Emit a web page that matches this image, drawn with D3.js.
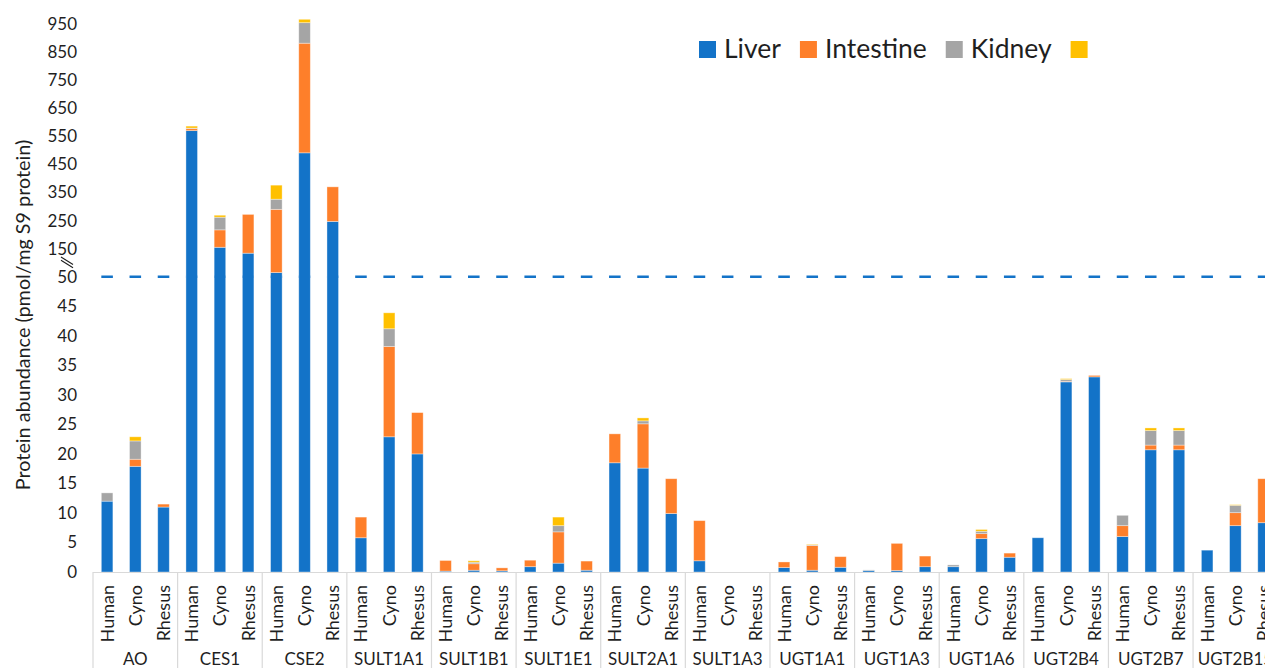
<!DOCTYPE html>
<html>
<head>
<meta charset="utf-8">
<script src="https://cdnjs.cloudflare.com/ajax/libs/d3/7.8.5/d3.min.js"></script>
<style>
  html, body { margin: 0; padding: 0; background: #fff; }
  svg { display: block; font-family: Lato, "Open Sans", sans-serif; }
</style>
</head>
<body>
<svg id="chart" width="1265" height="668"></svg>
<script>
// Enzymes (outer categories) and species (inner categories)
const groups = ["AO", "CES1", "CSE2", "SULT1A1", "SULT1B1", "SULT1E1", "SULT2A1",
                "SULT1A3", "UGT1A1", "UGT1A3", "UGT1A6", "UGT2B4", "UGT2B7", "UGT2B15"];
const species = ["Human", "Cyno", "Rhesus"];

// Tissue series, pmol/mg S9 protein, ordered group by group (Human, Cyno, Rhesus)
const tissues = ["Liver", "Intestine", "Kidney", ""];
const liver = [
  12, 17.9, 11,      570, 155, 134,     65, 491, 247,      5.8, 22.9, 20,
  0.15, 0.3, 0.2,    0.9, 1.5, 0.3,     18.5, 17.6, 9.9,   1.9, 0, 0,
  0.75, 0.3, 0.8,    0.25, 0.25, 0.9,   0.9, 5.65, 2.5,    5.8, 32.2, 33.05,
  6, 20.7, 20.7,     3.7, 7.85, 8.35
];
const intestine = [
  0, 1.2, 0.5,       7, 62, 138,        225, 390, 123,     3.5, 15.3, 7,
  1.8, 1.1, 0.5,     1.1, 5.3, 1.55,    4.9, 7.5, 5.9,     6.8, 0, 0,
  0.95, 4.2, 1.8,    0, 4.6, 1.8,       0, 0.85, 0.7,      0, 0.1, 0.25,
  1.85, 0.8, 0.8,    0, 2.2, 7.45
];
const kidney = [
  1.4, 3.1, 0,       2, 45, 0,          36, 73, 0,         0, 3.0, 0,
  0, 0.25, 0,        0, 1.05, 0,        0, 0.5, 0,         0, 0, 0,
  0, 0.1, 0,         0.1, 0, 0,         0.3, 0.4, 0,       0, 0.3, 0,
  1.75, 2.45, 2.45,  0, 1.25, 0
];
const other = [
  0, 0.7, 0,         7, 7, 0,           50, 12, 0,         0, 2.7, 0,
  0, 0.25, 0,        0, 1.45, 0,        0, 0.5, 0,         0, 0, 0,
  0, 0.1, 0,         0, 0, 0,           0, 0.3, 0,         0, 0.15, 0,
  0, 0.45, 0.45,     0, 0.1, 0
];

// Broken axis: 0–50 linear, then 50–950 compressed
const lowTicks = [0, 5, 10, 15, 20, 25, 30, 35, 40, 45, 50];
const highTicks = [150, 250, 350, 450, 550, 650, 750, 850, 950];
const breakValue = 50;

const colors = ["#1373C8", "#FE7F2A", "#A5A5A5", "#FFC000"];

const svg = d3.select("#chart");
const W = 1265, H = 668;

const plotLeft = 93, groupStep = 84.62;
const plotBottom = 572;

const y = d3.scaleLinear()
  .domain([0, breakValue, 950])
  .range([plotBottom, 276.8, 23.8]);

const xGroup = d3.scaleBand()
  .domain(groups)
  .range([plotLeft, plotLeft + groupStep * groups.length])
  .padding(0);

const xSpecies = d3.scaleBand()
  .domain(species)
  .range([0, xGroup.bandwidth()])
  .paddingInner(0.59)
  .paddingOuter(0.295);

// Build the stacked rows
const rows = [];
groups.forEach((g, gi) => {
  species.forEach((s, si) => {
    const i = gi * 3 + si;
    rows.push({ group: g, species: s, t0: liver[i], t1: intestine[i], t2: kidney[i], t3: other[i] });
  });
});
const stack = d3.stack().keys(["t0", "t1", "t2", "t3"]);
const series = stack(rows);

// Dashed guide at the axis break
const firstBar = xGroup(groups[0]) + xSpecies(species[0]);
svg.append("line")
  .attr("x1", firstBar).attr("x2", W)
  .attr("y1", y(breakValue)).attr("y2", y(breakValue))
  .attr("stroke", "#1373C8")
  .attr("stroke-width", 2.6)
  .attr("stroke-dasharray", `${xSpecies.bandwidth()} ${xSpecies.step() - xSpecies.bandwidth()}`);

// Bars
const layers = svg.append("g").selectAll("g")
  .data(series)
  .join("g")
  .attr("fill", (d, i) => colors[i]);

layers.selectAll("rect")
  .data(d => d.filter(p => p[1] - p[0] > 0))
  .join("rect")
  .attr("x", d => xGroup(d.data.group) + xSpecies(d.data.species))
  .attr("width", xSpecies.bandwidth())
  .attr("y", d => y(d[1]))
  .attr("height", d => y(d[0]) - y(d[1]))
  .attr("stroke", "rgba(255,255,255,0.45)")
  .attr("stroke-width", 0.8);

// X axis baseline and group separators
const gridColor = "#D9D9D9";
svg.append("line")
  .attr("x1", plotLeft).attr("x2", W)
  .attr("y1", plotBottom + 0.5).attr("y2", plotBottom + 0.5)
  .attr("stroke", gridColor).attr("stroke-width", 1.2);

const bounds = groups.map(g => xGroup(g)).concat([xGroup.range()[1]]);
svg.append("g").selectAll("line")
  .data(bounds)
  .join("line")
  .attr("x1", d => d).attr("x2", d => d)
  .attr("y1", plotBottom).attr("y2", H)
  .attr("stroke", gridColor).attr("stroke-width", 1.2);

// Species labels (rotated)
const labelColor = "#1f1f1f";
svg.append("g").selectAll("text")
  .data(rows)
  .join("text")
  .attr("transform", d => {
    const cx = xGroup(d.group) + xSpecies(d.species) + xSpecies.bandwidth() / 2;
    return `translate(${cx + 6.5},585) rotate(-90)`;
  })
  .attr("text-anchor", "end")
  .attr("font-size", 18)
  .attr("fill", labelColor)
  .text(d => d.species);

// Group labels
svg.append("g").selectAll("text")
  .data(groups)
  .join("text")
  .attr("x", d => xGroup(d) + xGroup.bandwidth() / 2)
  .attr("y", 665)
  .attr("text-anchor", "middle")
  .attr("font-size", 17)
  .attr("fill", labelColor)
  .text(d => d);

// Y axis tick labels
const yAxis = d3.axisLeft(y)
  .tickValues(lowTicks.concat(highTicks))
  .tickSize(0)
  .tickPadding(0)
  .tickFormat(d3.format("d"));
const gy = svg.append("g")
  .attr("transform", "translate(77,0)")
  .call(yAxis);
gy.select(".domain").remove();
gy.selectAll("text")
  .attr("font-family", "Lato, 'Open Sans', sans-serif")
  .attr("font-size", 17)
  .attr("fill", labelColor);

// Axis break marks
const brk = svg.append("g").attr("stroke", "#1f1f1f").attr("stroke-width", 1.1);
[0, 3.2].forEach(off => {
  brk.append("line")
    .attr("x1", 61).attr("y1", 257 + off)
    .attr("x2", 73).attr("y2", 264.5 + off);
});

// Y axis title
svg.append("text")
  .attr("transform", "translate(29.5,315) rotate(-90)")
  .attr("text-anchor", "middle")
  .attr("font-size", 19.8)
  .attr("fill", labelColor)
  .text("Protein abundance (pmol/mg S9 protein)");

// Legend
const legend = svg.append("g").attr("transform", "translate(699,41)");
let lx = 0;
tissues.forEach((name, i) => {
  legend.append("rect")
    .attr("x", lx).attr("y", 0)
    .attr("width", 17).attr("height", 17)
    .attr("fill", colors[i]);
  lx += 17;
  if (name) {
    const t = legend.append("text")
      .attr("x", lx + 8).attr("y", 17)
      .attr("font-size", 26.5)
      .attr("fill", labelColor)
      .text(name);
    lx += 8 + t.node().getComputedTextLength() + 19;
  }
});
</script>
</body>
</html>
